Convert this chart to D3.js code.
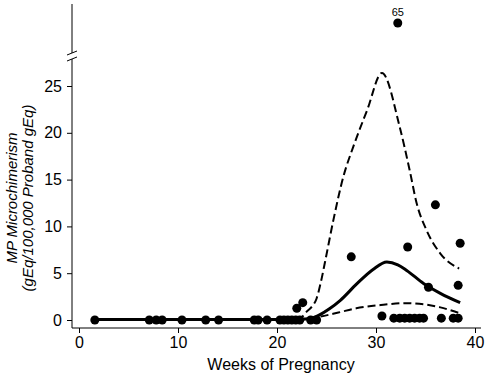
<!DOCTYPE html>
<html>
<head>
<meta charset="utf-8">
<script src="https://cdn.jsdelivr.net/npm/d3@7"></script>
<style>
    body { margin: 0; background: #fff; }
    text { font-family: "Liberation Sans", Arial, sans-serif; fill: #000; }
</style>
</head>
<body>
<div id="canvas"></div>
<script>
"use strict";

/* ---------------- DATA ---------------- */

// weeks of pregnancy for each sample
let sampleWeeks = [
    1.6, 7.1, 7.8, 8.4, 10.4, 12.8, 14.1, 17.7, 18.1, 19.0,
    20.3, 20.7, 21.1, 21.5, 21.9, 22.3, 23.4, 24.0,
    22.0, 22.6, 27.5,
    30.6, 31.8, 32.4, 32.9, 33.4, 33.9, 34.4, 34.8, 36.6, 37.8, 38.3,
    33.2, 36.0, 38.5, 38.3, 35.3, 32.2
];

// MP microchimerism (gEq/100,000 proband gEq)
let sampleValues = [
    0, 0, 0, 0, 0, 0, 0, 0, 0, 0,
    0, 0, 0, 0, 0, 0, 0, 0,
    1.25, 1.85, 6.75,
    0.43, 0.2, 0.2, 0.2, 0.2, 0.2, 0.2, 0.2, 0.2, 0.2, 0.2,
    7.8, 12.3, 8.2, 3.7, 3.5, 65
];

// smoothed mean
let meanWeeks  = [1.6, 22.0, 23.3, 24.3, 25.3, 26.4, 28.0, 29.7, 31.1, 32.2, 33.1, 34.8, 36.5, 38.5];
let meanValues = [0.05, 0.05, 0.15, 0.55, 1.2, 2.1, 3.8, 5.4, 6.2, 5.9, 5.3, 3.9, 2.85, 1.85];

// upper confidence band
let upperWeeks  = [22.0, 22.6, 23.0, 23.5, 24.0, 24.4, 24.85, 25.7, 26.7, 27.7, 29.1, 30.6, 32.4, 33.4, 34.1, 35.1, 36.5, 38.4];
let upperValues = [0.05, 0.4, 0.9, 1.4, 2.3, 3.9, 6.2, 10.7, 15.3, 18.5, 22.4, 26.4, 20.6, 16.0, 12.5, 9.6, 7.1, 5.5];

// lower confidence band
let lowerWeeks  = [22.0, 23.0, 24.3, 26.2, 28.0, 30.5, 33.1, 35.0, 36.5, 38.5];
let lowerValues = [0.05, 0.15, 0.35, 0.8, 1.25, 1.6, 1.8, 1.65, 1.35, 0.7];

let xTicks = [0, 10, 20, 30, 40];
let yTicks = [0, 5, 10, 15, 20, 25];

/* ---------------- SETUP ---------------- */

let svgWidth = 488;
let svgHeight = 378;

let svg = d3.select("#canvas")
    .append("svg")
    .attr("width", svgWidth)
    .attr("height", svgHeight);

let axisX = 72;
let axisY = 328;
let breakY = 56;

let xScale = d3.scaleLinear().domain([0, 40]).range([79, 475]);
let yScale = d3.scaleLinear().domain([0, 25]).range([320, 86]);
let yTopScale = d3.scaleLinear().domain([60, 70]).range([46, 0]);

function yPos(v) {
    return v > 40 ? yTopScale(v) : yScale(v);
}

function toPoints(weeks, values) {
    return weeks.map(function (w, i) { return { w: w, v: values[i] }; });
}

/* ---------------- AXES ---------------- */

let xAxis = d3.axisBottom(xScale)
    .tickValues(xTicks)
    .tickSize(5)
    .tickPadding(4)
    .tickFormat(d3.format("d"));

let gx = svg.append("g")
    .attr("transform", "translate(0," + axisY + ")")
    .call(xAxis);
gx.select(".domain").remove();
gx.selectAll("text").attr("font-size", "16px").attr("font-family", null);
gx.append("line")
    .attr("x1", axisX).attr("x2", 481)
    .attr("stroke", "#000");

let yAxis = d3.axisLeft(yScale)
    .tickValues(yTicks)
    .tickSize(5)
    .tickPadding(5);

let gy = svg.append("g")
    .attr("transform", "translate(" + axisX + ",0)")
    .call(yAxis);
gy.select(".domain").remove();
gy.selectAll("text").attr("font-size", "16px").attr("font-family", null);

// axis line with break
gy.append("line")
    .attr("y1", axisY).attr("y2", breakY + 3)
    .attr("stroke", "#000");
gy.append("line")
    .attr("y1", breakY - 3).attr("y2", 4)
    .attr("stroke", "#000");

[-3, 3].forEach(function (off) {
    gy.append("line")
        .attr("x1", -5).attr("y1", breakY + off + 2)
        .attr("x2", 5).attr("y2", breakY + off - 2)
        .attr("stroke", "#000")
        .attr("stroke-width", 1);
});

/* ---------------- LINES ---------------- */

let line = d3.line()
    .x(function (d) { return xScale(d.w); })
    .y(function (d) { return yScale(d.v); })
    .curve(d3.curveMonotoneX);

svg.append("path")
    .datum(toPoints(upperWeeks, upperValues))
    .attr("d", line)
    .attr("fill", "none")
    .attr("stroke", "#000")
    .attr("stroke-width", 2)
    .attr("stroke-dasharray", "8,4");

svg.append("path")
    .datum(toPoints(lowerWeeks, lowerValues))
    .attr("d", line)
    .attr("fill", "none")
    .attr("stroke", "#000")
    .attr("stroke-width", 2)
    .attr("stroke-dasharray", "8,4");

svg.append("path")
    .datum(toPoints(meanWeeks, meanValues))
    .attr("d", line)
    .attr("fill", "none")
    .attr("stroke", "#000")
    .attr("stroke-width", 3);

/* ---------------- POINTS ---------------- */

let samples = toPoints(sampleWeeks, sampleValues);

svg.append("g")
    .selectAll("circle")
    .data(samples)
    .join("circle")
    .attr("cx", function (d) { return xScale(d.w); })
    .attr("cy", function (d) { return yPos(d.v); })
    .attr("r", 4.5)
    .attr("fill", "#000");

// label for the off-scale value
svg.append("g")
    .selectAll("text")
    .data(samples.filter(function (d) { return d.v > 40; }))
    .join("text")
    .attr("x", function (d) { return xScale(d.w); })
    .attr("y", function (d) { return yPos(d.v) - 7; })
    .attr("text-anchor", "middle")
    .attr("font-size", "11px")
    .text(function (d) { return d.v; });

/* ---------------- LABELS ---------------- */

svg.append("text")
    .attr("x", 281)
    .attr("y", 370)
    .attr("text-anchor", "middle")
    .attr("font-size", "16px")
    .text("Weeks of Pregnancy");

let yLabel = svg.append("text")
    .attr("transform", "translate(0,198) rotate(-90)")
    .attr("text-anchor", "middle")
    .attr("font-size", "15px")
    .attr("font-style", "italic");

yLabel.append("tspan").attr("x", 0).attr("y", 17).text("MP Microchimerism");
yLabel.append("tspan").attr("x", 0).attr("y", 33).text("(gEq/100,000 Proband gEq)");
</script>
</body>
</html>
